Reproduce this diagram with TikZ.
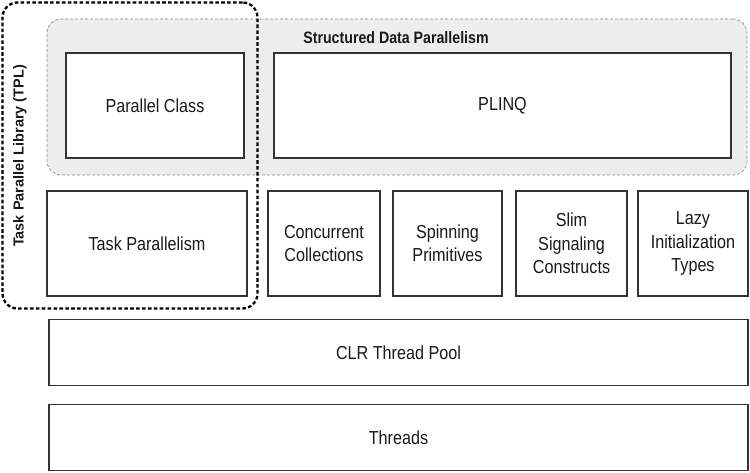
\documentclass[tikz,border=0pt]{standalone}
\usepackage{fontspec}
\setmainfont{Liberation Sans}[FakeStretch=0.86]
\newfontfamily\tplfont{Liberation Sans}
\usetikzlibrary{positioning}
\tikzset{
  box/.style={draw=black!80, line width=1.3pt, fill=white, inner sep=0pt,
    align=center, text=black!90, font=\fontsize{18.8}{23.5}\selectfont},
  region/.style={draw=black!45, dash pattern=on 3pt off 2pt, line width=0.7pt,
    fill=black!7, rounded corners=14pt, inner sep=0pt},
  tplregion/.style={draw=black, dash pattern=on 3.6pt off 2.3pt, line width=2.3pt,
    rounded corners=15pt, inner sep=0pt},
  boldlabel/.style={font=\bfseries\fontsize{16.5}{20}\selectfont, text=black!90, inner sep=0pt}
}
\begin{document}
\begin{tikzpicture}[x=1pt,y=-1pt]
\useasboundingbox (0,0) rectangle (750,473);
% Structured data parallelism region
\node[region, minimum width=700, minimum height=156] (sdp) at (397,97) {};
\node[boldlabel] (sdpl) at (396,38) {Structured Data Parallelism};
% boxes
\node[box, minimum width=178, minimum height=105] (pc) at (155,105.5) {Parallel Class};
\node[box, minimum width=457, minimum height=105] (plinq) at (502.5,105.5) {PLINQ};
\node[box, minimum width=200, minimum height=105] (tp) at (147,243.5) {Task Parallelism};
\node[box, minimum width=112, minimum height=105] (cc) at (324,243.5) {Concurrent\\Collections};
\node[box, minimum width=109, minimum height=105] (sp) at (447.5,243.5) {Spinning\\Primitives};
\node[box, minimum width=111, minimum height=105] (ss) at (571.5,243.5) {Slim\\Signaling\\Constructs};
\node[box, minimum width=110, minimum height=105] (lz) at (693,243.5) {Lazy\\Initialization\\Types};
\node[box, minimum width=699, minimum height=66] (clr) at (398.5,352.5) {CLR Thread Pool};
\node[box, minimum width=699, minimum height=66] (thr) at (398.5,437.5) {Threads};
% TPL region
\node[tplregion, minimum width=255, minimum height=306] (tpl) at (130,155.5) {};
\node[font=\tplfont\bfseries\fontsize{14.5}{17}\selectfont, text=black!90, rotate=90, inner sep=0pt] (tpll) at (20,156) {Task Parallel Library (TPL)};
\end{tikzpicture}
\end{document}
